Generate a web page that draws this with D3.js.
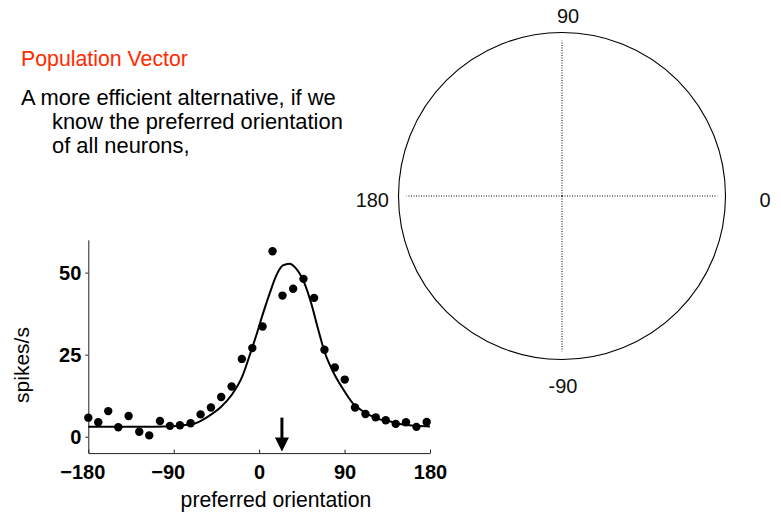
<!DOCTYPE html>
<html>
<head>
<meta charset="utf-8">
<script src="https://cdn.jsdelivr.net/npm/d3@7"></script>
<style>
  html, body { margin: 0; padding: 0; background: #fff; }
  svg { display: block; font-family: "Liberation Sans", Arial, Helvetica, sans-serif; }
</style>
</head>
<body>
<svg id="chart" width="781" height="515"></svg>
<script>
// ---- data ----
const titleText = "Population Vector";
const bodyLines = ["A more efficient alternative, if we", "know the preferred orientation", "of all neurons,"];

// measured tuning data: preferred orientation (deg) and firing rate (spikes/s)
const prefOrientation = [-180, -169.5, -159, -148.4, -137.5, -126.3, -115.8, -104.5, -94, -83.5, -72.2, -61.7, -50.8, -40, -29, -18.2, -7.2, 3.6, 14.1, 24.6, 35.8, 46.7, 57.9, 68.8, 79.7, 90.2, 101, 112, 122.8, 133.4, 143.9, 154.7, 165.7, 176.5];
const firingRate = [5.8, 4.4, 7.8, 2.9, 6.3, 1.5, 0.4, 4.8, 3.3, 3.5, 4.1, 6.8, 8.9, 12.1, 15.3, 23.7, 27.0, 33.6, 56.5, 43.0, 45.1, 48.1, 42.3, 26.5, 21.1, 17.4, 8.9, 6.9, 5.9, 5.0, 3.9, 4.4, 3.0, 4.5];

// fitted tuning curve
const fitOrientation = [-180, -150, -120, -100, -85, -75, -67, -54, -40, -29, -18, -10, -3, 4, 11, 18, 25, 32, 39, 48, 55, 62, 69, 78, 88, 99, 110, 124, 138, 150, 165, 180];
const fitRate = [3.0, 3.0, 3.0, 3.1, 3.3, 3.7, 4.1, 6.1, 9.1, 12.7, 18.2, 24.8, 30.9, 37.5, 43.6, 49.1, 52.2, 52.7, 51.2, 46.6, 40.5, 32.9, 25.8, 19.7, 14.7, 10.1, 7.6, 5.6, 4.6, 3.8, 3.3, 3.1];

const xTicks = [-180, -90, 0, 90, 180];
const yTicks = [0, 25, 50];
const xLabel = "preferred orientation";
const yLabel = "spikes/s";

const arrowOrientation = [24];   // population-vector estimate marked by the arrow

const polarAngles = [0, 90, 180, -90];
const polarLabels = ["0", "90", "180", "-90"];

// ---- drawing ----
const svg = d3.select("#chart");

// text block
svg.append("text").attr("x", 21).attr("y", 66)
  .attr("font-size", 21.3).attr("fill", "#ff2a00").text(titleText);
const lineX = [21, 52, 52], lineY = [105, 129, 153];
svg.selectAll("text.body").data(bodyLines).join("text")
  .attr("class", "body")
  .attr("x", (d, i) => lineX[i]).attr("y", (d, i) => lineY[i])
  .attr("font-size", 21.9).attr("fill", "#000").text(d => d);

// tuning plot
const x = d3.scaleLinear().domain([-180, 180]).range([88.3, 430]);
const y = d3.scaleLinear().domain([-5, 60]).range([453.1, 239.8]);

const g = svg.append("g");

const xAxis = d3.axisBottom(x).tickValues(xTicks).tickSizeInner(-3.5).tickSizeOuter(0).tickPadding(12);
const xg = g.append("g").attr("transform", `translate(0,${y(-5)})`).call(xAxis);
xg.selectAll("text").attr("font-size", 20).attr("font-weight", "bold").attr("fill", "#000")
  .attr("font-family", "Liberation Sans, Arial, sans-serif")
  .attr("dx", d => d < 0 ? "-0.3em" : 0);
xg.select(".domain").attr("stroke", "#222");
xg.selectAll(".tick line").attr("stroke", "#222");

const yAxis = d3.axisLeft(y).tickValues(yTicks).tickSizeInner(3).tickSizeOuter(0).tickPadding(4);
const yg = g.append("g").attr("transform", `translate(${x(-180)},0)`).call(yAxis);
yg.selectAll("text").attr("font-size", 20).attr("font-weight", "bold").attr("fill", "#000")
  .attr("font-family", "Liberation Sans, Arial, sans-serif");
yg.select(".domain").attr("stroke", "#222");
yg.selectAll(".tick line").attr("stroke", "#222");

// fitted curve
const line = d3.line().x((d, i) => x(fitOrientation[i])).y(d => y(d)).curve(d3.curveMonotoneX);
g.append("path").datum(fitRate).attr("d", line)
  .attr("fill", "none").attr("stroke", "#000").attr("stroke-width", 2);

// data dots
g.selectAll("circle.dot").data(firingRate).join("circle")
  .attr("class", "dot")
  .attr("cx", (d, i) => x(prefOrientation[i])).attr("cy", d => y(d))
  .attr("r", 4.2).attr("fill", "#000");

// arrow
const arrowTop = y(-5) - 35.5, arrowHead = 14;
arrowOrientation.forEach(a => {
  const ax = x(a), tip = y(-5) - 1.5;
  g.append("line").attr("x1", ax).attr("x2", ax).attr("y1", arrowTop).attr("y2", tip - arrowHead + 2)
    .attr("stroke", "#000").attr("stroke-width", 3);
  g.append("path").attr("d", `M${ax - 7},${tip - arrowHead} L${ax + 7},${tip - arrowHead} L${ax},${tip} Z`)
    .attr("fill", "#000");
});

// axis titles
g.append("text").attr("x", 276).attr("y", 507)
  .attr("text-anchor", "middle").attr("font-size", 21.2).attr("fill", "#000").text(xLabel);
g.append("text").attr("transform", `translate(29,365) rotate(-90)`)
  .attr("text-anchor", "middle").attr("font-size", 21).attr("fill", "#000").text(yLabel);

// polar plot
const cx = 562, cy = 196;
const r = d3.scaleLinear().domain([0, 1]).range([0, 163.5]);
const pg = svg.append("g").attr("transform", `translate(${cx},${cy})`);
pg.append("circle").attr("r", r(1)).attr("fill", "none").attr("stroke", "#000").attr("stroke-width", 1.1);
pg.selectAll("line.spoke").data(polarAngles).join("line")
  .attr("class", "spoke")
  .attr("x1", 0).attr("y1", 0)
  .attr("x2", d => r(0.95) * Math.cos(d * Math.PI / 180))
  .attr("y2", d => -r(0.95) * Math.sin(d * Math.PI / 180))
  .attr("stroke", "#000").attr("stroke-width", 1).attr("stroke-dasharray", "1,1.5");

const labelPos = {
  "0":   {x: 203, y: 10.5, anchor: "middle"},
  "90":  {x: 6,   y: -173.5, anchor: "middle"},
  "180": {x: -173, y: 10.5, anchor: "end"},
  "-90": {x: 1,   y: 197, anchor: "middle"}
};
pg.selectAll("text.plab").data(polarLabels).join("text")
  .attr("class", "plab")
  .attr("x", d => labelPos[d].x).attr("y", d => labelPos[d].y)
  .attr("text-anchor", d => labelPos[d].anchor)
  .attr("font-size", 20).attr("fill", "#111").text(d => d);
</script>
</body>
</html>
